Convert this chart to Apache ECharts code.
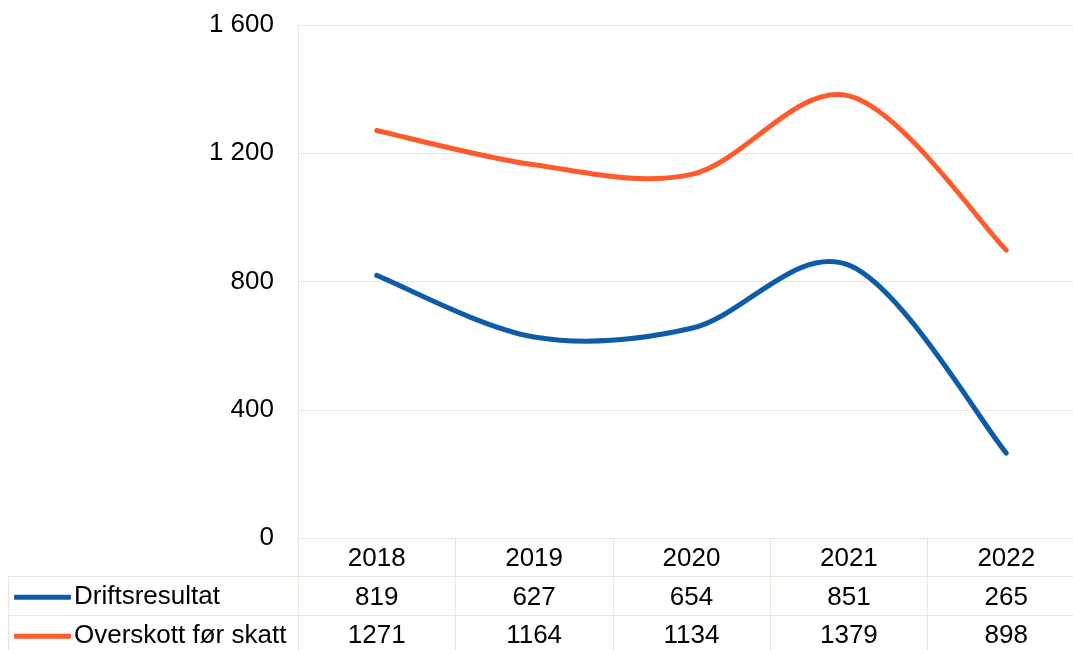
<!DOCTYPE html>
<html>
<head>
<meta charset="utf-8">
<script src="https://cdn.jsdelivr.net/npm/echarts@6/dist/echarts.min.js"></script>
<style>
  html, body { margin: 0; padding: 0; background: #fff; }
  #chart { width: 1073px; height: 650px; }
</style>
</head>
<body>
<div id="chart"></div>
<script>
const years = ['2018', '2019', '2020', '2021', '2022'];
const seriesNames = ['Driftsresultat', 'Overskott før skatt'];
const driftsresultat = [819, 627, 654, 851, 265];
const overskott = [1271, 1164, 1134, 1379, 898];
const seriesColors = ['#0e5ca8', '#ff5a2c'];

const gridColor = '#ebe5dc';
const font = 'Liberation Sans, Arial, sans-serif';
const fontSize = 26;
const rowH = 38.5;

const chart = echarts.init(document.getElementById('chart'));

// one category axis per table row, stacked below the plot
function tableAxis(labels, offset) {
  return {
    type: 'category',
    position: 'bottom',
    offset: offset,
    data: labels,
    boundaryGap: true,
    axisLine: { show: true, lineStyle: { color: gridColor, width: 1 } },
    axisTick: { show: true, length: rowH, lineStyle: { color: gridColor } },
    axisLabel: {
      color: '#000',
      fontFamily: font,
      fontSize: fontSize,
      verticalAlign: 'middle',
      margin: 21
    },
    splitLine: { show: false }
  };
}

// smoothed line like the spreadsheet one (catmull-rom style beziers)
function smoothLine(values, color) {
  return function (params, api) {
    if (params.dataIndex !== 0) return null;
    const pts = values.map((v, i) => api.coord([i, v]));
    let d = 'M' + pts[0][0] + ' ' + pts[0][1];
    for (let i = 0; i < pts.length - 1; i++) {
      const p0 = pts[Math.max(i - 1, 0)];
      const p1 = pts[i];
      const p2 = pts[i + 1];
      const p3 = pts[Math.min(i + 2, pts.length - 1)];
      const c1 = [p1[0] + (p2[0] - p0[0]) / 6, p1[1] + (p2[1] - p0[1]) / 6];
      const c2 = [p2[0] - (p3[0] - p1[0]) / 6, p2[1] - (p3[1] - p1[1]) / 6];
      d += ' C' + c1[0] + ' ' + c1[1] + ' ' + c2[0] + ' ' + c2[1] + ' ' + p2[0] + ' ' + p2[1];
    }
    return {
      type: 'path',
      shape: { pathData: d },
      style: { fill: null, stroke: color, lineWidth: 5, lineCap: 'round', lineJoin: 'round' }
    };
  };
}

function legendRow(name, top) {
  return {
    orient: 'vertical',
    left: 14,
    top: top,
    padding: 0,
    icon: 'roundRect',
    itemWidth: 57,
    itemHeight: 5,
    data: [name],
    textStyle: {
      color: '#000',
      fontFamily: font,
      fontSize: fontSize,
      lineHeight: rowH,
      padding: [0, 0, 0, -2]
    }
  };
}

const option = {
  animation: false,
  color: seriesColors,
  grid: {
    left: 298,
    top: 25,
    width: 787,
    height: 513,
    outerBoundsMode: 'none',
    containLabel: false
  },
  legend: [
    legendRow(seriesNames[0], 578),
    legendRow(seriesNames[1], 617)
  ],
  xAxis: [
    tableAxis(years, 0),
    tableAxis(driftsresultat.map(String), rowH),
    tableAxis(overskott.map(String), rowH * 2)
  ],
  yAxis: {
    type: 'value',
    min: 0,
    max: 1600,
    interval: 400,
    axisLine: { show: true, lineStyle: { color: gridColor } },
    axisTick: { show: false },
    axisLabel: {
      color: '#000',
      fontFamily: font,
      fontSize: fontSize,
      margin: 24,
      padding: [4, 0, 0, 0],
      formatter: v => String(v).replace(/\B(?=(\d{3})+(?!\d))/g, ' ')
    },
    splitLine: { show: true, lineStyle: { color: gridColor, width: 1 } }
  },
  series: [
    {
      name: seriesNames[0],
      type: 'custom',
      xAxisIndex: 0,
      data: driftsresultat,
      itemStyle: { color: seriesColors[0] },
      renderItem: smoothLine(driftsresultat, seriesColors[0])
    },
    {
      name: seriesNames[1],
      type: 'custom',
      xAxisIndex: 0,
      data: overskott,
      itemStyle: { color: seriesColors[1] },
      renderItem: smoothLine(overskott, seriesColors[1])
    }
  ],
  // left part of the data table (border lines next to the legend)
  graphic: [
    { type: 'line', shape: { x1: 8.5, y1: 576.5, x2: 298, y2: 576.5 }, style: { stroke: gridColor, lineWidth: 1 } },
    { type: 'line', shape: { x1: 8.5, y1: 615.5, x2: 298, y2: 615.5 }, style: { stroke: gridColor, lineWidth: 1 } },
    { type: 'line', shape: { x1: 8.5, y1: 576.5, x2: 8.5, y2: 650 }, style: { stroke: gridColor, lineWidth: 1 } }
  ]
};

chart.setOption(option);
</script>
</body>
</html>
